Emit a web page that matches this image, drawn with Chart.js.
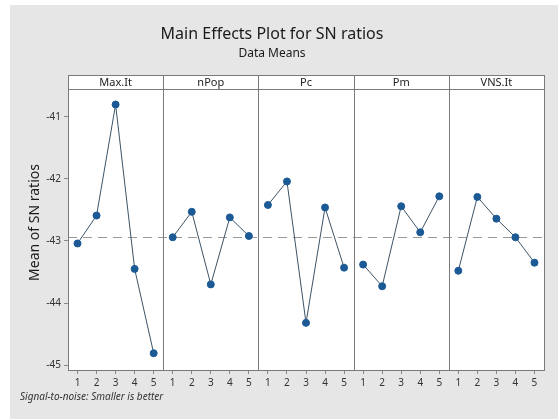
<!DOCTYPE html>
<html>
<head>
<meta charset="utf-8">
<script src="https://cdn.jsdelivr.net/npm/chart.js@4/dist/chart.umd.min.js"></script>
<style>
html,body{margin:0;padding:0;background:#fff;}
#wrap{width:558px;height:419px;position:relative;}
</style>
</head>
<body>
<div id="wrap"><canvas id="c" width="558" height="419"></canvas></div>
<script>
// ---- data ----
const levels = [1, 2, 3, 4, 5];
const factors = ['Max.It', 'nPop', 'Pc', 'Pm', 'VNS.It'];
const maxIt = [-43.04, -42.59, -40.80, -43.45, -44.81];
const nPop  = [-42.94, -42.53, -43.70, -42.62, -42.92];
const pc    = [-42.42, -42.04, -44.32, -42.46, -43.43];
const pm    = [-43.38, -43.73, -42.44, -42.86, -42.28];
const vnsIt = [-43.48, -42.29, -42.64, -42.94, -43.35];
const overallMean = -42.94;
const yTicks = [-45, -44, -43, -42, -41];
const chartTitle = 'Main Effects Plot for SN ratios';
const chartSubtitle = 'Data Means';
const yTitle = 'Mean of SN ratios';
const footnote = 'Signal-to-noise: Smaller is better';

const seriesValues = [maxIt, nPop, pc, pm, vnsIt];
const FONT = '"Noto Sans", "Open Sans", sans-serif';
const HEADER_H = 14;

const scales = {
  y: {
    type: 'linear',
    position: 'left',
    min: -45.08,
    max: -40.55,
    afterBuildTicks: s => { s.ticks = yTicks.map(v => ({value: v})); },
    afterFit: s => { s.width = 68; },
    ticks: { font: {family: FONT, size: 10}, color: '#333', padding: 3,
             callback: v => String(v) },
    grid: { drawOnChartArea: false, drawTicks: true, tickLength: 4, color: '#8a8a8a' },
    border: { display: false }
  }
};
factors.forEach((f, i) => {
  scales['x' + i] = {
    type: 'linear',
    position: 'bottom',
    stack: 'panels',
    stackWeight: 1,
    min: 0.5,
    max: 5.5,
    afterBuildTicks: s => { s.ticks = levels.map(v => ({value: v})); },
    afterFit: s => { s.height = 22; },
    ticks: { font: {family: FONT, size: 10}, color: '#333', padding: 3, maxRotation: 0,
             callback: v => String(v) },
    grid: { drawOnChartArea: false, drawTicks: true, tickLength: 4, color: '#8a8a8a' },
    border: { display: false }
  };
});

const datasets = factors.map((f, i) => ({
  label: f,
  xAxisID: 'x' + i,
  yAxisID: 'y',
  data: levels.map((l, k) => ({x: l, y: seriesValues[i][k]})),
  borderColor: '#3d5468',
  borderWidth: 1,
  pointBackgroundColor: '#1c5a96',
  pointBorderColor: '#1c5a96',
  pointRadius: 3.5,
  pointHoverRadius: 3.5,
  tension: 0,
  fill: false
}));

const decor = {
  id: 'decor',
  beforeDraw(chart) {
    const ctx = chart.ctx;
    const a = chart.chartArea;
    ctx.save();
    ctx.fillStyle = '#ffffff';
    ctx.fillRect(0, 0, chart.width, chart.height);
    ctx.fillStyle = '#e6e6e6';
    ctx.fillRect(10, 5, chart.width - 10, chart.height - 5);
    ctx.fillStyle = '#ffffff';
    ctx.fillRect(a.left, a.top - HEADER_H, a.right - a.left, a.bottom - a.top + HEADER_H);
    ctx.restore();
  },
  beforeDatasetsDraw(chart) {
    const ctx = chart.ctx;
    const a = chart.chartArea;
    const y = chart.scales.y.getPixelForValue(overallMean);
    ctx.save();
    ctx.strokeStyle = '#9a9a9a';
    ctx.lineWidth = 1;
    ctx.setLineDash([9, 6]);
    ctx.beginPath();
    ctx.moveTo(a.left, Math.round(y) + 0.5);
    ctx.lineTo(a.right, Math.round(y) + 0.5);
    ctx.stroke();
    ctx.restore();
  },
  afterDraw(chart) {
    const ctx = chart.ctx;
    const a = chart.chartArea;
    ctx.save();
    // panel borders and headers
    ctx.strokeStyle = '#7a7a7a';
    ctx.lineWidth = 1;
    const top = a.top - HEADER_H;
    factors.forEach((f, i) => {
      const sx = chart.scales['x' + i];
      const l = Math.round(sx.left) + 0.5, r = Math.round(sx.right) + 0.5;
      ctx.strokeRect(l, Math.round(top) + 0.5, r - l, Math.round(a.bottom) - Math.round(top));
      ctx.beginPath();
      ctx.moveTo(l, Math.round(a.top) + 0.5);
      ctx.lineTo(r, Math.round(a.top) + 0.5);
      ctx.stroke();
      ctx.fillStyle = '#222';
      ctx.font = '11px ' + FONT;
      ctx.textAlign = 'center';
      ctx.textBaseline = 'middle';
      ctx.fillText(f, (sx.left + sx.right) / 2, top + HEADER_H / 2 + 0.5);
    });
    // titles
    ctx.fillStyle = '#1a1a1a';
    ctx.textAlign = 'center';
    ctx.textBaseline = 'middle';
    ctx.font = '16px ' + FONT;
    ctx.fillText(chartTitle, 272, 34);
    ctx.font = '12px ' + FONT;
    ctx.fillText(chartSubtitle, 272, 54);
    // y title
    ctx.save();
    ctx.translate(35, (top + a.bottom) / 2);
    ctx.rotate(-Math.PI / 2);
    ctx.font = '14px ' + FONT;
    ctx.fillText(yTitle, 0, 0);
    ctx.restore();
    // footnote
    ctx.font = 'italic 10px ' + FONT;
    ctx.textAlign = 'left';
    ctx.fillStyle = '#333';
    ctx.fillText(footnote, 20, 397);
    ctx.restore();
  }
};

new Chart(document.getElementById('c'), {
  type: 'line',
  data: { datasets },
  options: {
    responsive: false,
    animation: false,
    devicePixelRatio: 1,
    layout: { padding: { top: 89, right: 14, bottom: 27, left: 0 } },
    plugins: { legend: { display: false }, title: { display: false }, tooltip: { enabled: false } },
    scales
  },
  plugins: [decor]
});
</script>
</body>
</html>
